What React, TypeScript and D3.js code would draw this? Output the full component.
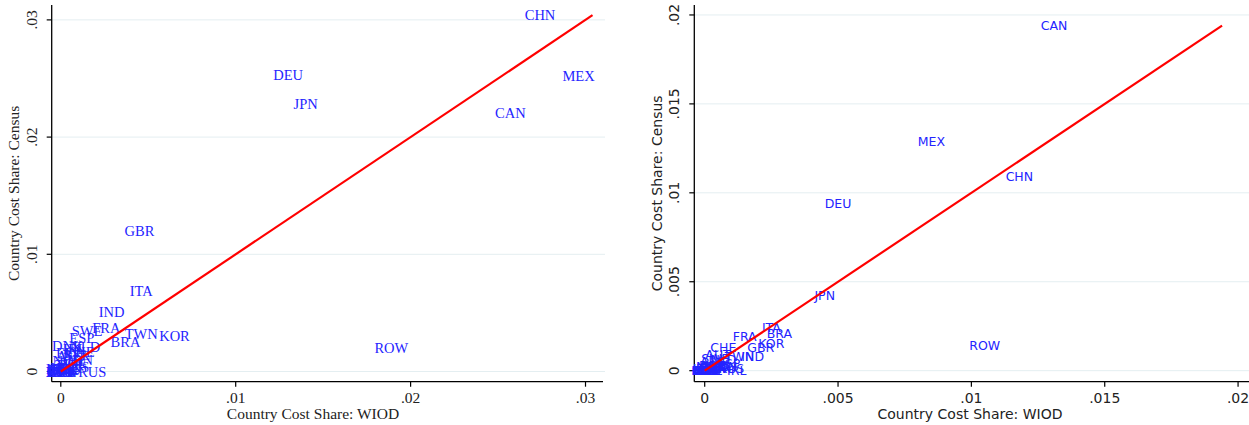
import React from "react";
import * as d3 from "d3";

// ---------- Left panel data ----------
const countriesL = ["CHN","MEX","DEU","JPN","CAN","GBR","ITA","IND","FRA","SWE","ESP","TWN","KOR","BRA","ROW","DNK","NLD","IRL","CHE","BEL","AUT","FIN","NOR","IDN","POL","TUR","AUS","RUS","HUN","CZE","PRT","GRC","SVK","ROU","LUX","BGR","HRV","SVN","LTU","LVA","EST","CYP","MLT"];
const wiodL = [0.0274,0.0296,0.0130,0.0140,0.0257,0.0045,0.0046,0.0029,0.0026,0.0015,0.0012,0.0046,0.0065,0.0037,0.0189,0.0004,0.0014,0.0008,0.0011,0.0009,0.0006,0.0004,0.0004,0.0011,0.0007,0.0005,0.0008,0.0018,0.0003,0.0003,0.0002,0.0001,0.0002,0.0001,0.0000,0.0000,0.0000,0.0001,0.0000,0.0000,0.0000,0.0000,0.0000];
const censusL = [0.0304,0.0252,0.0253,0.0228,0.0221,0.0120,0.0069,0.0051,0.0037,0.0035,0.0029,0.0032,0.0030,0.0025,0.0020,0.0022,0.0021,0.0019,0.0017,0.0014,0.0013,0.0016,0.0009,0.0010,0.0007,0.0006,0.0004,0.0000,0.0003,0.0002,0.0002,0.0001,0.0001,0.0001,0.0002,0.0000,0.0000,0.0000,0.0000,0.0000,0.0000,0.0000,0.0000];
const xTicksL = [0, 0.01, 0.02, 0.03];
const yTicksL = [0, 0.01, 0.02, 0.03];
const tickLabelsL = ["0", ".01", ".02", ".03"];

// ---------- Right panel data ----------
const countriesR = ["CAN","MEX","CHN","DEU","JPN","ROW","ITA","BRA","FRA","KOR","GBR","CHE","AUT","TWN","IND","IRL","ESP","NLD","SWE","BEL","AUS","IDN","DNK","POL","RUS","TUR","NOR","FIN","HUN","CZE","PRT","GRC","SVK","ROU","LUX","BGR","HRV","SVN","LTU","LVA","EST","CYP","MLT"];
const wiodR = [0.0131,0.0085,0.0118,0.0050,0.0045,0.0105,0.0025,0.0028,0.0015,0.0025,0.0021,0.0007,0.0005,0.0013,0.0018,0.0012,0.0009,0.0007,0.0004,0.0006,0.0003,0.0008,0.0003,0.0004,0.0010,0.0005,0.0002,0.0002,0.0003,0.0002,0.0001,0.0001,0.0001,0.0001,0.0000,0.0000,0.0000,0.0000,0.0000,0.0000,0.0000,0.0000,0.0000];
const censusR = [0.0194,0.0129,0.0109,0.0094,0.0042,0.0014,0.0024,0.0021,0.0019,0.0015,0.0013,0.0013,0.0009,0.0008,0.0008,0.0000,0.0004,0.0006,0.0007,0.0003,0.0005,0.0002,0.0003,0.0002,0.0001,0.0001,0.0002,0.0001,0.0001,0.0000,0.0001,0.0000,0.0000,0.0000,0.0001,0.0000,0.0000,0.0000,0.0000,0.0000,0.0000,0.0000,0.0000];
const xTicksR = [0, 0.005, 0.01, 0.015, 0.02];
const yTicksR = [0, 0.005, 0.01, 0.015, 0.02];
const tickLabelsR = ["0", ".005", ".01", ".015", ".02"];

const xTitle = "Country Cost Share: WIOD";
const yTitle = "Country Cost Share: Census";

type PanelProps = {
  countries: string[];
  xs: number[];
  ys: number[];
  xTicks: number[];
  yTicks: number[];
  tickLabels: string[];
  xDomain: [number, number];
  yDomain: [number, number];
  left: number;
  right: number;
  top: number;
  bottom: number;
  gridRight: number;
  font: string;
  labelSize: number;
  tickSize: number;
  titleSize: number;
  yTickX: number;
  yTitleX: number;
  xTitleX: number;
};

function Panel(p: PanelProps) {
  const x = d3.scaleLinear().domain(p.xDomain).range([p.left, p.right]);
  const y = d3.scaleLinear().domain(p.yDomain).range([p.bottom, p.top]);
  const lineMax = d3.max(p.ys) as number;
  const line = d3.line<number>().x((v) => x(v)).y((v) => y(v));
  const midY = (p.top + p.bottom) / 2;
  return (
    <g fontFamily={p.font}>
      {p.yTicks.map((t, i) => (
        <line key={"g" + i} x1={p.left} x2={p.gridRight} y1={y(t)} y2={y(t)} stroke="#e4eef1" strokeWidth={1} />
      ))}
      <line x1={p.left} x2={p.left} y1={p.top} y2={p.bottom} stroke="#000" strokeWidth={1.3} />
      <line x1={p.left} x2={p.right} y1={p.bottom} y2={p.bottom} stroke="#000" strokeWidth={1.3} />
      {p.yTicks.map((t, i) => (
        <g key={"yt" + i}>
          <line x1={p.left - 5} x2={p.left} y1={y(t)} y2={y(t)} stroke="#000" strokeWidth={1.2} />
          <text
            transform={`translate(${p.yTickX},${y(t)}) rotate(-90)`}
            textAnchor="middle"
            fontSize={p.tickSize}
            fill="#222"
          >
            {p.tickLabels[i]}
          </text>
        </g>
      ))}
      {p.xTicks.map((t, i) => (
        <g key={"xt" + i}>
          <line x1={x(t)} x2={x(t)} y1={p.bottom} y2={p.bottom + 5} stroke="#000" strokeWidth={1.2} />
          <text x={x(t)} y={p.bottom + 21} textAnchor="middle" fontSize={p.tickSize} fill="#222">
            {p.tickLabels[i]}
          </text>
        </g>
      ))}
      <text x={p.xTitleX} y={p.bottom + 37} textAnchor="middle" fontSize={p.titleSize} fill="#222">
        {xTitle}
      </text>
      <text
        transform={`translate(${p.yTitleX},${midY}) rotate(-90)`}
        textAnchor="middle"
        fontSize={p.titleSize}
        fill="#222"
      >
        {yTitle}
      </text>
      {p.countries.map((c, i) => (
        <text
          key={c}
          x={x(p.xs[i])}
          y={y(p.ys[i])}
          dy="0.35em"
          textAnchor="middle"
          fontSize={p.labelSize}
          fill="#2424ff"
        >
          {c}
        </text>
      ))}
      <path d={line([0, lineMax]) as string} stroke="#ff0000" strokeWidth={2.2} fill="none" />
    </g>
  );
}

export default function App() {
  return (
    <svg
      width={1249}
      height={425}
      style={{ position: "absolute", left: 0, top: 0, background: "#fff" }}
    >
      <rect width={1249} height={425} fill="#fff" />
      <Panel
        countries={countriesL}
        xs={wiodL}
        ys={censusL}
        xTicks={xTicksL}
        yTicks={yTicksL}
        tickLabels={tickLabelsL}
        xDomain={[-0.00052, 0.031]}
        yDomain={[-0.00087, 0.03127]}
        left={51.7}
        right={603}
        top={5}
        bottom={381.7}
        gridRight={605}
        font="'Liberation Serif', serif"
        labelSize={14.5}
        tickSize={15.5}
        titleSize={15.5}
        yTickX={37}
        yTitleX={19}
        xTitleX={313}
      />
      <Panel
        countries={countriesR}
        xs={wiodR}
        ys={censusR}
        xTicks={xTicksR}
        yTicks={yTicksR}
        tickLabels={tickLabelsR}
        xDomain={[-0.00039, 0.02041]}
        yDomain={[-0.00062, 0.02056]}
        left={694.3}
        right={1249}
        top={5}
        bottom={381.7}
        gridRight={1249}
        font="'DejaVu Sans', sans-serif"
        labelSize={12.5}
        tickSize={14}
        titleSize={14}
        yTickX={679}
        yTitleX={662}
        xTitleX={970}
      />
    </svg>
  );
}
